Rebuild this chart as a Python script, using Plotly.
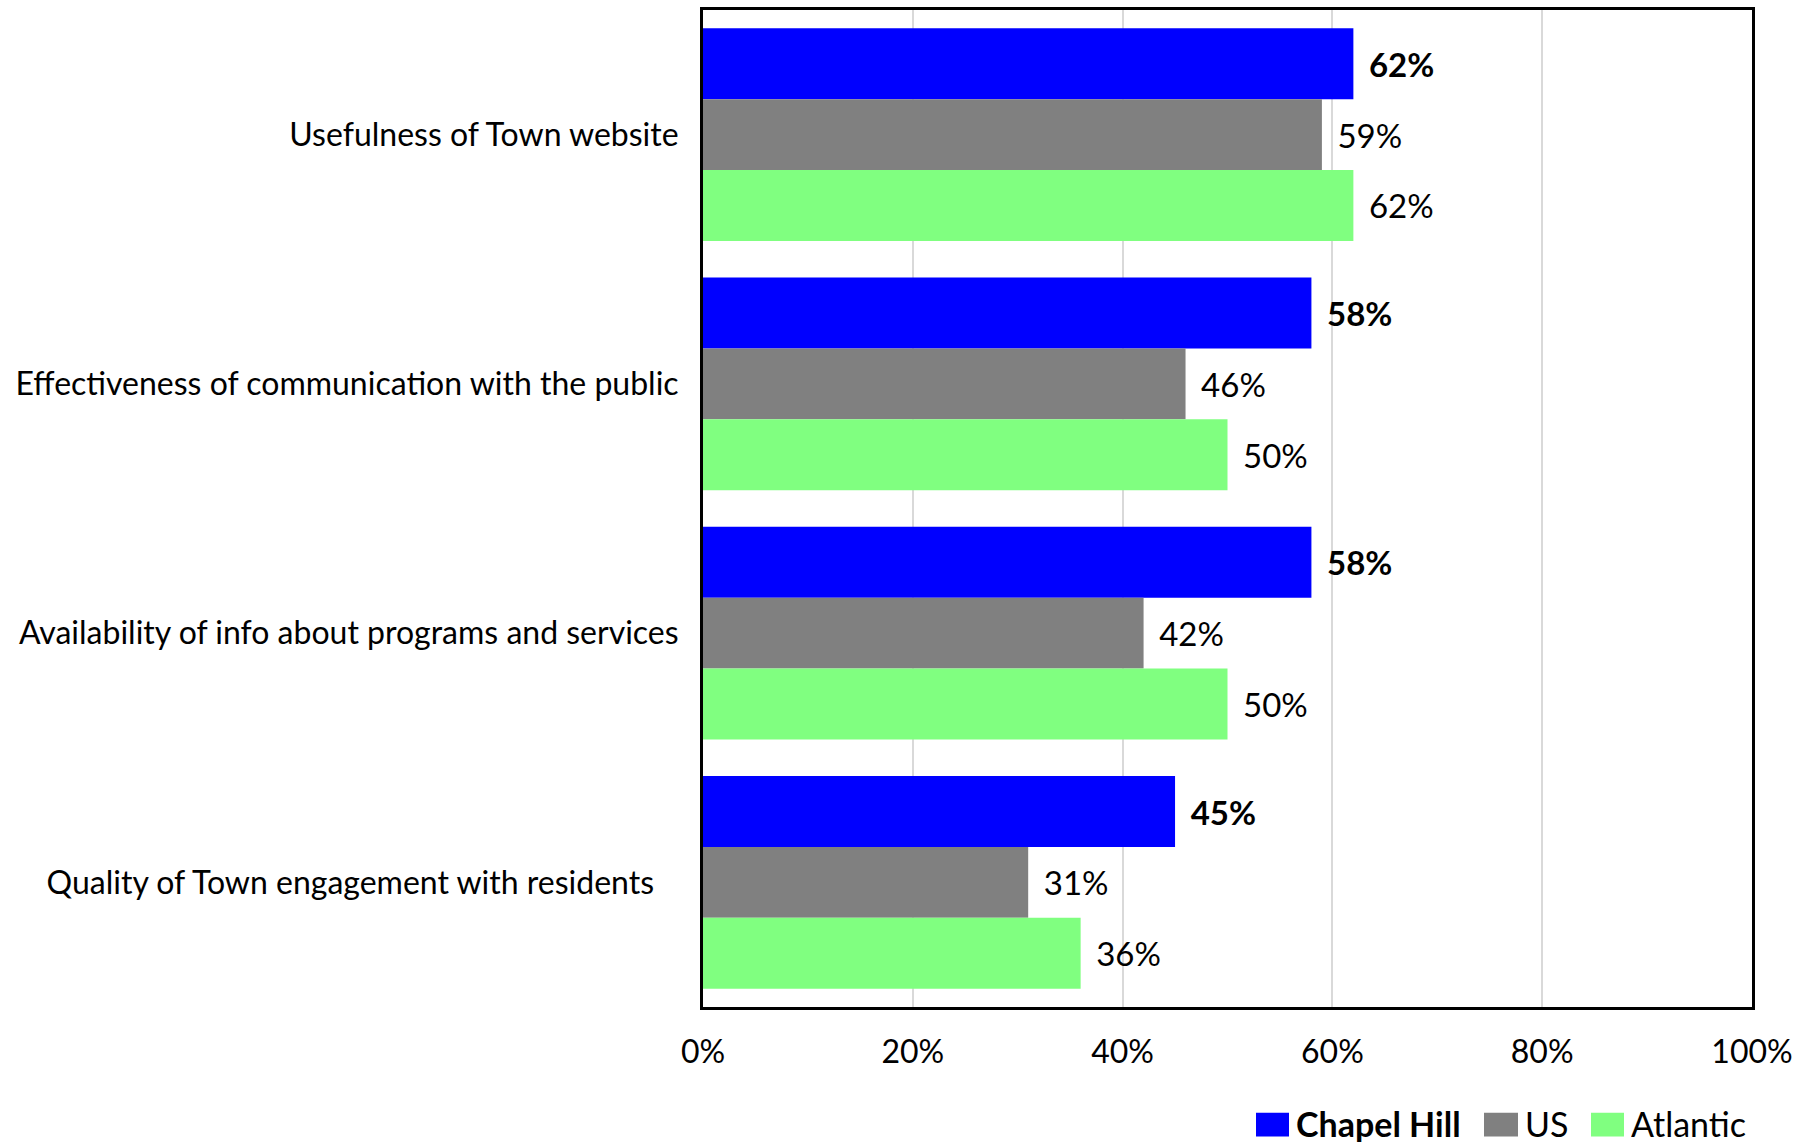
import plotly.graph_objects as go

# Survey items, top to bottom
categories = [
    "Usefulness of Town website",
    "Effectiveness of communication with the public",
    "Availability of info about programs and services",
    "Quality of Town engagement with residents\u00a0\u00a0\u00a0",
]

# Share of positive ratings by comparison group
chapel_hill = [0.62, 0.58, 0.58, 0.45]
us = [0.59, 0.46, 0.42, 0.31]
atlantic = [0.62, 0.50, 0.50, 0.36]

series_names = ["Chapel Hill", "US", "Atlantic"]
series_colors = ["#0000FF", "#808080", "#80FF80"]
x_ticks = [0, 0.2, 0.4, 0.6, 0.8, 1.0]

FONT = "Lato"
FS = 32
FS_VAL = 33
FS_LEG = 34

fig = go.Figure()
for name, vals, color in zip(series_names, [chapel_hill, us, atlantic], series_colors):
    bold = name == "Chapel Hill"
    labels = [("\u2009\u00a0<b>%d%%</b>" if bold else "\u2009\u00a0%d%%") % round(v * 100) for v in vals]
    fig.add_trace(go.Bar(
        y=categories, x=vals, orientation="h", name=name,
        marker=dict(color=color, line=dict(width=0)),
        text=labels, textposition="outside", constraintext="none",
        cliponaxis=False,
        textfont=dict(family=FONT, size=FS_VAL, color="black"),
        showlegend=False,
    ))

fig.update_layout(
    width=1816, height=1144,
    margin=dict(l=703, r=64, t=7, b=137),
    paper_bgcolor="white", plot_bgcolor="white",
    barmode="group", bargap=0.147, bargroupgap=0,
    font=dict(family=FONT, size=FS, color="black"),
)
fig.update_xaxes(
    range=[0, 1], tickvals=x_ticks, tickformat=".0%",
    showgrid=True, gridcolor="#d9d9d9", gridwidth=1.5,
    showline=True, linecolor="black", linewidth=3, mirror=True,
    zeroline=False, ticks="", ticklabelstandoff=15,
    tickfont=dict(family=FONT, size=FS, color="black"),
)
fig.update_yaxes(
    autorange="reversed", showgrid=False,
    showline=True, linecolor="black", linewidth=3, mirror=True,
    ticks="", ticklabelstandoff=15,
    tickfont=dict(family=FONT, size=FS, color="black"),
)

# Legend drawn as swatches and labels below the plot
def px_x(p):
    return (p - 703) / 1049.0

def px_y(p):
    return (1007 - p) / 1000.0

legend_items = [
    (1256, 1289, 1295, "<b>Chapel Hill</b>"),
    (1484, 1518, 1524, "US"),
    (1591, 1624, 1630, "Atlantic"),
]
for (x0, x1, tx, label), color in zip(legend_items, series_colors):
    fig.add_shape(type="rect", xref="paper", yref="paper",
                  x0=px_x(x0), x1=px_x(x1), y0=px_y(1137), y1=px_y(1113),
                  fillcolor=color, line=dict(width=0))
    fig.add_annotation(xref="paper", yref="paper", x=px_x(tx), y=px_y(1123),
                       text=label, showarrow=False, xanchor="left", yanchor="middle",
                       height=38, valign="middle", borderpad=0,
                       font=dict(family=FONT, size=FS_LEG, color="black"))

fig.write_html("out.html")
